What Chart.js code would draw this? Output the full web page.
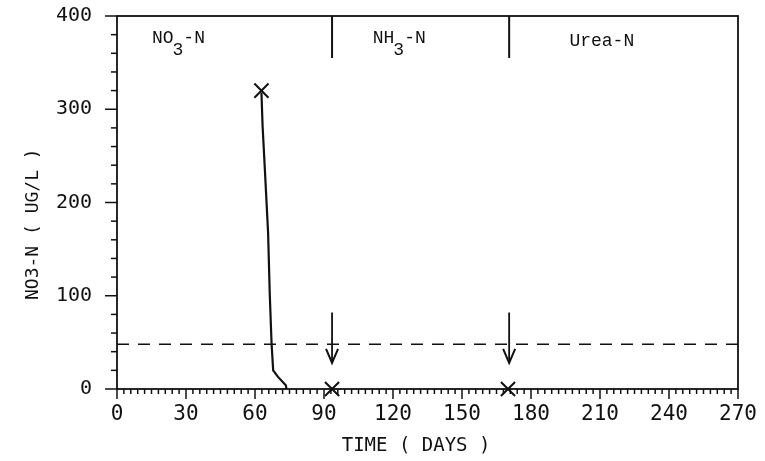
<!DOCTYPE html>
<html><head><meta charset="utf-8">
<script src="https://cdn.jsdelivr.net/npm/chart.js@4"></script>
<style>html,body{margin:0;padding:0;background:#fff}#wrap{width:765px;height:461px}</style>
</head><body><div id="wrap"><canvas id="c" width="765" height="461"></canvas></div>
<script>
// ---- data ----
const curveDays   = [62.8, 63.3, 64.3, 65.7, 66.4, 67.2, 67.9, 70.0, 73.4, 73.7];
const curveValues = [318, 282, 235, 167, 103, 49, 20, 13, 4, 0];
const markerDays   = [62.8, 93.5, 170];
const markerValues = [320, 0, 0];
const thresholdValue = 48;
const thresholdDays  = [0, 270];
const dividerDays  = [93.5, 170.5];
const dividerRange = [355, 400];
const arrowDays    = [93.5, 170.5];
const arrowRange   = [82, 28];
const sectionMain  = ['NO', 'NH', 'Urea-N'];
const sectionSub   = ['3', '3', ''];
const sectionTail  = ['-N', '-N', ''];
const sectionDays  = [15.2, 111.2, 196.7];
const sectionValues = [371, 371, 368];
const xTickLabels = ['0','30','60','90','120','150','180','210','240','270'];
const yTickLabels = ['0','100','200','300','400'];

const black = '#111';
const mk = (xs, ys) => xs.map((x, i) => ({x, y: ys[i]}));

const datasets = [
  {data: mk(curveDays, curveValues), borderColor: black, borderWidth: 2.2, pointRadius: 0, showLine: true, tension: 0},
  {data: mk(thresholdDays, [thresholdValue, thresholdValue]), borderColor: black, borderWidth: 1.5, borderDash: [12, 9], pointRadius: 0, showLine: true},
  {data: mk(markerDays, markerValues), showLine: false, pointStyle: 'crossRot', pointRadius: 10, borderColor: black, borderWidth: 2, clip: false},
];
dividerDays.forEach(d => datasets.push({data: mk([d, d], dividerRange), borderColor: black, borderWidth: 2, pointRadius: 0, showLine: true}));
arrowDays.forEach(d => datasets.push({data: mk([d, d], arrowRange), borderColor: black, borderWidth: 1.8, pointRadius: 0, showLine: true}));

const extras = {
  id: 'extras',
  afterDatasetsDraw(chart) {
    const {ctx, chartArea: a, scales: {x, y}} = chart;
    ctx.save();
    ctx.strokeStyle = black; ctx.lineWidth = 1.8;
    ctx.strokeRect(a.left, a.top, a.right - a.left, a.bottom - a.top);
    // minor/major ticks through the scales
    ctx.lineWidth = 1.5;
    for (let v = 0; v <= 270; v += 3) {
      const px = x.getPixelForValue(v);
      const len = v % 30 === 0 ? 10 : 5;
      ctx.beginPath(); ctx.moveTo(px, a.bottom); ctx.lineTo(px, a.bottom + len); ctx.stroke();
    }
    for (let v = 0; v <= 400; v += 20) {
      const py = y.getPixelForValue(v);
      const len = v % 100 === 0 ? 12 : 6;
      ctx.beginPath(); ctx.moveTo(a.left, py); ctx.lineTo(a.left - len, py); ctx.stroke();
    }
    // arrow heads
    ctx.lineWidth = 2;
    arrowDays.forEach(d => {
      const px = x.getPixelForValue(d), py = y.getPixelForValue(arrowRange[1]);
      ctx.beginPath(); ctx.moveTo(px - 6, py - 14); ctx.lineTo(px, py); ctx.lineTo(px + 6, py - 14); ctx.stroke();
    });
    // section labels
    ctx.fillStyle = black; ctx.textBaseline = 'alphabetic';
    ctx.font = '18px "Liberation Mono"';
    sectionMain.forEach((t, i) => {
      let px = x.getPixelForValue(sectionDays[i]);
      const py = y.getPixelForValue(sectionValues[i]);
      ctx.fillText(t, px, py); px += ctx.measureText(t).width;
      if (sectionSub[i]) {
        ctx.fillText(sectionSub[i], px - 1, py + 12); px += ctx.measureText(sectionSub[i]).width;
        ctx.fillText(sectionTail[i], px - 1, py);
      }
    });
    ctx.restore();
  }
};

new Chart(document.getElementById('c'), {
  type: 'scatter',
  data: {datasets},
  options: {
    responsive: false, animation: false,
    layout: {padding: {top: 16, right: 27, left: 0, bottom: 0}},
    plugins: {legend: {display: false}, tooltip: {enabled: false}},
    scales: {
      x: {
        type: 'linear', min: 0, max: 270,
        afterFit: s => { s.height = 72; s.paddingLeft = 0; s.paddingRight = 0; },
        grid: {display: false, drawTicks: false},
        border: {display: false},
        ticks: {stepSize: 30, autoSkip: false, maxRotation: 0, padding: 13, color: black, font: {family: '"DejaVu Sans Mono"', size: 21},
                callback: (v, i) => xTickLabels[i] ?? ''},
        title: {display: true, text: 'TIME ( DAYS )  ', color: black, font: {family: '"DejaVu Sans Mono"', size: 19}, padding: {top: 0, bottom: 4}}
      },
      y: {
        type: 'linear', min: 0, max: 400,
        afterFit: s => { s.width = 117; s.paddingTop = 0; s.paddingBottom = 0; },
        grid: {display: false, drawTicks: false},
        border: {display: false},
        ticks: {stepSize: 100, padding: 25, color: black, font: {family: '"DejaVu Sans Mono"', size: 20},
                callback: (v, i) => yTickLabels[i] ?? ''},
        title: {display: true, text: 'NO3-N ( UG/L )    ', color: black, font: {family: '"DejaVu Sans Mono"', size: 18}, padding: {top: 23, bottom: 0}}
      }
    }
  },
  plugins: [extras]
});
</script></body></html>
